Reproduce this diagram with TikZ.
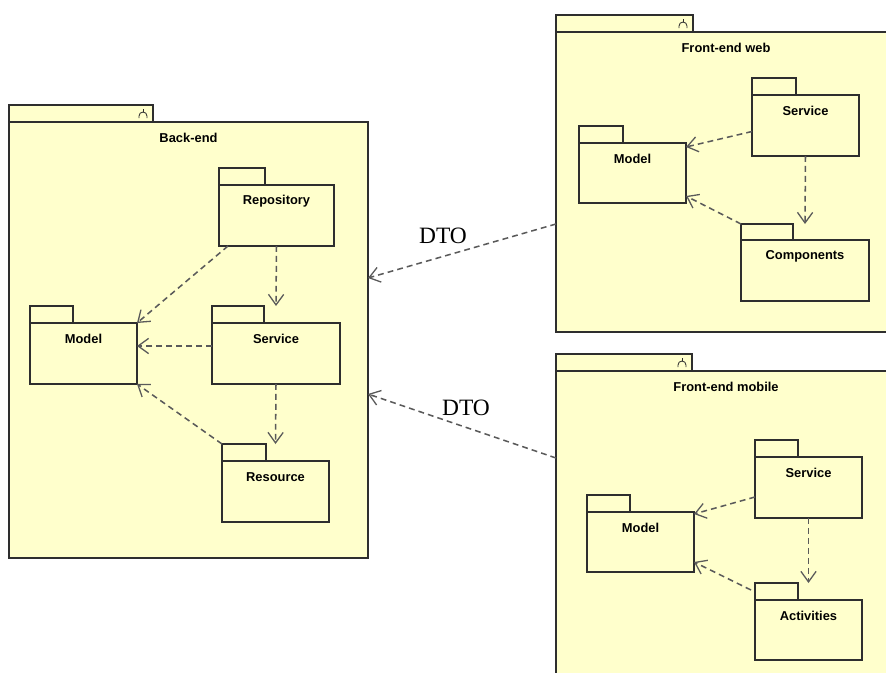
\documentclass[tikz,border=0pt]{standalone}
\usepackage{fontspec}
\setmainfont{Liberation Sans}
\newfontfamily\dtofont{Liberation Serif}
\usetikzlibrary{arrows.meta,calc}
\definecolor{pkgfill}{HTML}{FFFFCC}
\definecolor{pkgline}{HTML}{2E2E2E}
\definecolor{deplin}{HTML}{5A5A5A}
\tikzset{
 pkgbody/.style={draw=pkgline, fill=pkgfill, line width=1.6pt, inner sep=0pt, outer sep=0pt, anchor=north west},
 pkgtab/.style={draw=pkgline, fill=pkgfill, line width=1.6pt},
 pkglabel/.style={font=\bfseries\fontsize{11}{13}\selectfont, inner sep=0pt},
 dep/.style={draw=deplin, line width=1.3pt, dash pattern=on 5pt off 3.5pt, -{Straight Barb[length=9pt,width=13pt,line width=1.1pt]}},
 dto/.style={font=\dtofont\fontsize{20}{24}\selectfont, inner sep=0pt},
 tabmark/.style={draw=pkgline, line width=0.7pt}
}
% #1 name, #2 x, #3 y (body top-left), #4 w, #5 h, #6 tab w, #7 tab h, #8 label
\newcommand{\mypkg}[8]{%
  \node[pkgbody, minimum width={#4*0.03cm}, minimum height={#5*0.03cm}] (#1) at (#2,#3) {};
  \draw[pkgtab] (#1.north west) rectangle ++(#6,-#7);
  \node[pkglabel] (#1l) at ($(#1.north)+(0,16)$) {#8};
}
\newcommand{\mytabicon}[2]{%
  \draw[tabmark] ($(#1.north west)+(#2-14,-4)$) -- ++(0,-2) arc[start angle=180, end angle=360, radius=4] -- ++(0,2);
  \draw[tabmark] ($(#1.north west)+(#2-10,-10)$) -- ++(0,-3);
}
\begin{document}
\begin{tikzpicture}[x=0.03cm,y=-0.03cm]
\useasboundingbox (0,0) rectangle (886,673);
\clip (0,0) rectangle (886,673);
\fill[white] (0,0) rectangle (886,673);

% big packages
\mypkg{be}{9}{122}{359}{436}{144}{17}{Back-end}
\mytabicon{be}{144}
\mypkg{few}{556}{32}{340}{300}{137}{17}{Front-end web}
\mytabicon{few}{137}
\mypkg{fem}{556}{371}{340}{330}{136}{17}{Front-end mobile}
\mytabicon{fem}{136}

% Back-end contents
\mypkg{rep}{219}{185}{115}{61}{46}{17}{Repository}
\mypkg{bm}{30}{323}{107}{61}{43}{17}{Model}
\mypkg{bsv}{212}{323}{128}{61}{52}{17}{Service}
\mypkg{res}{222}{461}{107}{61}{44}{17}{Resource}

% Front-end web contents
\mypkg{fsv}{752}{95}{107}{61}{44}{17}{Service}
\mypkg{fm}{579}{143}{107}{60}{44}{17}{Model}
\mypkg{fc}{741}{240}{128}{61}{52}{16}{Components}

% Front-end mobile contents
\mypkg{msv}{755}{457}{107}{61}{43}{17}{Service}
\mypkg{mm}{587}{512}{107}{60}{43}{17}{Model}
\mypkg{ma}{755}{600}{107}{60}{43}{17}{Activities}

% Back-end dependencies
\draw[dep] ($(rep.south west)+(9,0)$) -- (bm.north east);
\draw[dep] (rep.south) -- ($(bsv.north)+(0,-17)$);
\draw[dep] ($(bsv.west)+(0,-7.5)$) -- ($(bm.east)+(0,-7.5)$);
\draw[dep] (bsv.south) -- ($(res.north)+(0,-17)$);
\draw[dep] ($(res.north west)+(0,-17)$) -- (bm.south east);

% Front-end web dependencies
\draw[dep] ($(fsv.west)+(0,6)$) -- ($(fm.north east)+(0,4)$);
\draw[dep] (fsv.south) -- ($(fc.north)+(0,-16)$);
\draw[dep] ($(fc.north west)+(0,-16)$) -- ($(fm.south east)+(0,-7)$);

% Front-end mobile dependencies
\draw[dep] ($(msv.west)+(0,9.5)$) -- ($(mm.north east)+(0,2)$);
\draw[dep] (msv.south) -- ($(ma.north)+(0,-17)$);
\draw[dep] ($(ma.north west)+(-4,-10)$) -- ($(mm.south east)+(0,-10)$);

% DTO dependencies
\draw[dep] ($(few.north west)+(0,192)$) -- ($(be.north east)+(0,156)$);
\node[dto] (dto1) at (443,236) {DTO};
\draw[dep] ($(fem.north west)+(0,87)$) -- ($(be.north east)+(0,272)$);
\node[dto] (dto2) at (466,408) {DTO};
\end{tikzpicture}
\end{document}
